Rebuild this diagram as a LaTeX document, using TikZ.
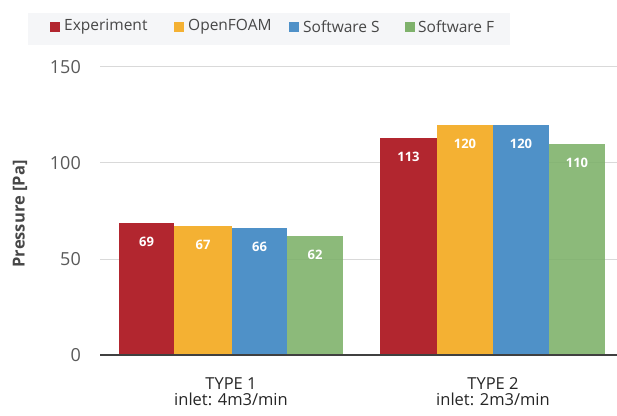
\documentclass[tikz,border=0pt]{standalone}
\usepackage{fontspec}
\setmainfont{Open Sans}
\definecolor{cexp}{HTML}{B2262F}
\definecolor{cof}{HTML}{F4B133}
\definecolor{cs}{HTML}{4F91C8}
\definecolor{cf}{HTML}{7FB26C}
\definecolor{grid}{HTML}{D9D9D9}
\definecolor{tick}{HTML}{595959}
\definecolor{legbg}{HTML}{F5F6F8}
\tikzset{
  vlab/.style={text=white,font=\fontsize{13}{15}\selectfont\bfseries,inner sep=0pt},
  ticklab/.style={text=tick,font=\fontsize{18}{21}\selectfont,anchor=east,inner sep=0pt},
  legsq/.style={fill=#1,minimum size=10pt,inner sep=0pt},
  legtxt/.style={text=tick!80!black,font=\fontsize{15.5}{18}\selectfont,anchor=west,inner sep=0pt},
  catlab/.style={text=black!85,font=\fontsize{16.5}{18}\selectfont,anchor=base,inner sep=0pt}
}
\begin{document}
\begin{tikzpicture}[x=1pt,y=1pt]
\useasboundingbox (0,0) rectangle (617,415);
% legend
\fill[legbg] (28,370) rectangle (510,402);
\node[legsq=cexp] (sq1) at (55,388) {};
\node[legtxt] (l1) at (64,388) {Experiment};
\node[legsq=cof] (sq2) at (179,388) {};
\node[legtxt] (l2) at (188,388) {OpenFOAM};
\node[legsq=cs] (sq3) at (294,388) {};
\node[legtxt] (l3) at (303,388) {Software S};
\node[legsq=cf] (sq4) at (410,388) {};
\node[legtxt] (l4) at (418,388) {Software F};
% y axis title
\node[rotate=90,text=tick!80!black,font=\fontsize{16.5}{19}\selectfont\bfseries] (yt) at (20,201) {Pressure [Pa]};
\begin{scope}[yshift=60pt,y=1.92pt]
  \foreach \v in {50,100,150} {\draw[grid,line width=1pt] (100,\v) -- (617,\v);}
  \foreach \v in {0,50,100,150} {\node[ticklab] (t\v) at (81,\v) {\v};}
  % type 1
  \fill[cexp] (119,0) rectangle (174,69);
  \fill[cof] (174,0) rectangle (232,67);
  \fill[cs] (232,0) rectangle (287,66);
  \fill[cf,opacity=0.9] (287,0) rectangle (343,62);
  % type 2
  \fill[cexp] (380,0) rectangle (437,113);
  \fill[cof] (437,0) rectangle (493,120);
  \fill[cs] (493,0) rectangle (549,120);
  \fill[cf,opacity=0.9] (549,0) rectangle (605,110);
  \draw[black!75,line width=2pt] (100,0) -- (617,0);
\end{scope}
% value labels
\node[vlab] (v1) at (146.5,{60+1.92*69-19}) {69};
\node[vlab] (v2) at (203,{60+1.92*67-19}) {67};
\node[vlab] (v3) at (259.5,{60+1.92*66-19}) {66};
\node[vlab] (v4) at (315,{60+1.92*62-19}) {62};
\node[vlab] (v5) at (408.5,{60+1.92*113-19}) {113};
\node[vlab] (v6) at (465,{60+1.92*120-19}) {120};
\node[vlab] (v7) at (521,{60+1.92*120-19}) {120};
\node[vlab] (v8) at (577,{60+1.92*110-19}) {110};
% category labels
\node[catlab] (c1a) at (231,26) {TYPE 1};
\node[catlab] (c1b) at (231,10) {inlet: 4m3/min};
\node[catlab] (c2a) at (493,26) {TYPE 2};
\node[catlab] (c2b) at (493,10) {inlet: 2m3/min};
\end{tikzpicture}
\end{document}
